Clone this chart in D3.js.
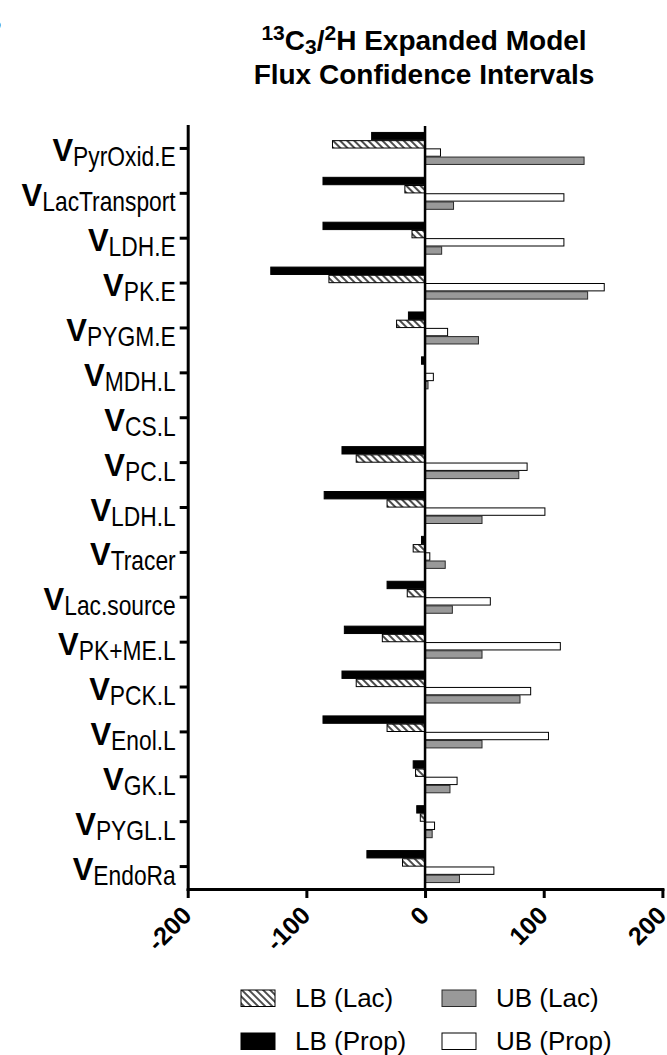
<!DOCTYPE html>
<html>
<head>
<meta charset="utf-8">
<script src="https://cdn.jsdelivr.net/npm/d3@7"></script>
<style>
  body { margin: 0; background: #fff; }
  svg { display: block; }
</style>
</head>
<body>
<script>
// fluxes, top to bottom
var categories = ["PyrOxid.E", "LacTransport", "LDH.E", "PK.E", "PYGM.E", "MDH.L", "CS.L", "PC.L",
                  "LDH.L", "Tracer", "Lac.source", "PK+ME.L", "PCK.L", "Enol.L", "GK.L", "PYGL.L", "EndoRa"];
var lbProp = [-45, -86, -86, -130, -14, -3, 0, -70, -85, -3, -32, -68, -70, -86, -10, -7, -49];
var lbLac  = [-78, -17, -11, -81, -24, 0, 0, -58, -32, -10, -15, -36, -58, -32, -8, -4, -19];
var ubProp = [13, 117, 117, 151, 19, 7, 0, 86, 101, 4, 55, 114, 89, 104, 27, 8, 58];
var ubLac  = [134, 24, 14, 137, 45, 2.5, 0, 79, 48, 17, 23, 48, 80, 48, 21, 6, 29];
var seriesNames = ["LB (Prop)", "LB (Lac)", "UB (Prop)", "UB (Lac)"];
var xTicks = [-200, -100, 0, 100, 200];

var seriesValues = [lbProp, lbLac, ubProp, ubLac];
var fills = ["#000", "url(#hatch)", "#fff", "#999"];
var strokes = ["#000", "#000", "#000", "#2a2a2a"];
var font = "Liberation Sans, Arial, sans-serif";

var svg = d3.select("body").append("svg")
    .attr("width", 667)
    .attr("height", 1055);

var defs = svg.append("defs");
var pat = defs.append("pattern")
    .attr("id", "hatch")
    .attr("patternUnits", "userSpaceOnUse")
    .attr("width", 5).attr("height", 5)
    .attr("patternTransform", "rotate(-45)");
pat.append("rect").attr("width", 5).attr("height", 5).attr("fill", "#fff");
pat.append("line").attr("x1", 1).attr("y1", 0).attr("x2", 1).attr("y2", 5)
    .attr("stroke", "#000").attr("stroke-width", 1.4);

// panel letter, mostly cut off
svg.append("text").attr("x", -20).attr("y", 31)
    .attr("font-family", font)
    .attr("font-weight", "bold").attr("font-size", 30).text("B");

// title
var title = svg.append("text")
    .attr("text-anchor", "middle")
    .attr("font-family", font)
    .attr("font-weight", "bold")
    .attr("font-size", 28);
var t1 = title.append("tspan").attr("x", 424).attr("y", 50);
t1.append("tspan").attr("font-size", 21).attr("dy", -10).text("13");
t1.append("tspan").attr("dy", 10).text("C");
t1.append("tspan").attr("font-size", 21).attr("dy", 4).text("3");
t1.append("tspan").attr("dy", -4).text("/");
t1.append("tspan").attr("font-size", 21).attr("dy", -10).text("2");
t1.append("tspan").attr("dy", 10).text("H Expanded Model");
title.append("tspan").attr("x", 424).attr("y", 84).text("Flux Confidence Intervals");

var x = d3.scaleLinear().domain([-200, 200]).range([187.7, 662.4]);
var y = d3.scaleBand().domain(categories).range([126, 889]);
var ySub = d3.scaleBand().domain(seriesNames).range([-16, 16]).paddingInner(0.1);

// bars
seriesNames.forEach(function(name, s) {
  svg.append("g").selectAll("rect")
    .data(seriesValues[s])
    .join("rect")
      .attr("x", function(d) { return x(Math.min(0, d)); })
      .attr("width", function(d) { return Math.abs(x(d) - x(0)); })
      .attr("y", function(d, i) { return y(categories[i]) + y.bandwidth() / 2 + ySub(name); })
      .attr("height", ySub.bandwidth())
      .attr("fill", fills[s])
      .attr("stroke", strokes[s])
      .attr("stroke-width", 1)
      .attr("display", function(d) { return d === 0 ? "none" : null; });
});

// zero line
svg.append("line")
    .attr("x1", x(0)).attr("x2", x(0))
    .attr("y1", 126).attr("y2", 889)
    .attr("stroke", "#000").attr("stroke-width", 2.5);

// left axis
var gy = svg.append("g")
    .attr("transform", "translate(" + x(-200) + ",0)")
    .call(d3.axisLeft(y).tickSize(8).tickSizeOuter(0).tickFormat(""));
gy.select(".domain").attr("stroke-width", 3).attr("stroke-linecap", "square");
gy.selectAll(".tick line").attr("stroke-width", 3);

// labels: bold V + condensed subscript (no narrow font installed, so squeeze it)
var squeeze = 0.8;
gy.selectAll(".tick").each(function(d) {
  var g = d3.select(this);
  var sub = g.append("text")
      .attr("transform", "scale(" + squeeze + ",1)")
      .attr("x", -12 / squeeze)
      .attr("y", 18)
      .attr("text-anchor", "end")
      .attr("fill", "#000")
      .attr("font-family", font)
      .attr("font-size", 28.5)
      .text(d);
  var w = sub.node().getComputedTextLength() * squeeze;
  g.append("text")
      .attr("x", -12 - w)
      .attr("y", 13)
      .attr("text-anchor", "end")
      .attr("fill", "#000")
      .attr("font-family", font)
      .attr("font-weight", "bold")
      .attr("font-size", 31)
      .text("V");
});

// bottom axis
var gx = svg.append("g")
    .attr("transform", "translate(0," + 889 + ")")
    .call(d3.axisBottom(x).tickValues(xTicks).tickSize(9).tickSizeOuter(0)
      .tickFormat(function(d) { return String(d); }));
gx.select(".domain").attr("stroke-width", 3).attr("stroke-linecap", "square");
gx.selectAll(".tick line").attr("stroke-width", 3);
gx.selectAll(".tick text")
    .attr("font-family", font)
    .attr("font-weight", "bold")
    .attr("font-size", 25)
    .attr("fill", "#000")
    .attr("text-anchor", "end")
    .attr("dy", 0)
    .attr("y", 0)
    .attr("transform", "translate(5,28) rotate(-45)");

// legend
var legendOrder = ["LB (Lac)", "UB (Lac)", "LB (Prop)", "UB (Prop)"];
var legend = svg.append("g")
    .attr("font-family", font)
    .attr("font-size", 26);
legendOrder.forEach(function(name, k) {
  var s = seriesNames.indexOf(name);
  var lx = (k % 2 === 0) ? 241 : 442;
  var ly = (k < 2) ? 990 : 1033;
  legend.append("rect")
      .attr("x", lx).attr("y", ly)
      .attr("width", 34).attr("height", 16.5)
      .attr("fill", fills[s])
      .attr("stroke", strokes[s]).attr("stroke-width", 1);
  legend.append("text")
      .attr("x", lx + 54).attr("y", ly + 17)
      .text(name);
});
</script>
</body>
</html>
